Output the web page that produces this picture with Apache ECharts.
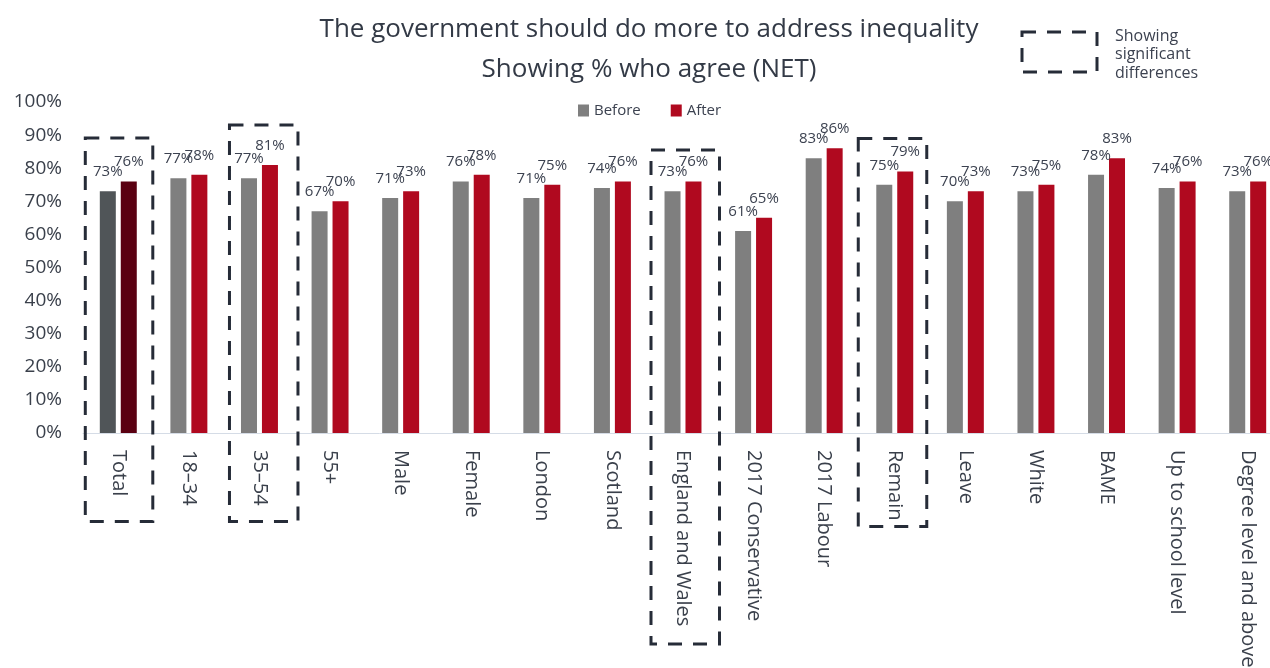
<!DOCTYPE html>
<html>
<head>
<meta charset="utf-8">
<title>The government should do more to address inequality</title>
<script src="https://cdn.jsdelivr.net/npm/echarts@6/dist/echarts.min.js"></script>
<style>
  html, body { margin: 0; padding: 0; background: #ffffff; }
  #chart { width: 1270px; height: 668px; }
</style>
</head>
<body>
<div id="chart"></div>
<script>
// ---- data ----
const categories = [
  'Total', '18–34', '35–54', '55+', 'Male', 'Female', 'London', 'Scotland',
  'England and Wales', '2017 Conservative', '2017 Labour', 'Remain', 'Leave',
  'White', 'BAME', 'Up to school level', 'Degree level and above'
];
const beforeValues = [73, 77, 77, 67, 71, 76, 71, 74, 73, 61, 83, 75, 70, 73, 78, 74, 73];
const afterValues  = [76, 78, 81, 70, 73, 78, 75, 76, 76, 65, 86, 79, 73, 75, 83, 76, 76];
const yTicks = [0, 10, 20, 30, 40, 50, 60, 70, 80, 90, 100];
// groups where the change is significant
const significant = ['Total', '35–54', 'England and Wales', 'Remain'];

// ---- styling ----
const FONT = '"Open Sans", "DejaVu Sans", sans-serif';
const TEXT = '#3a404b';
const BEFORE = '#7f7f7f';
const AFTER = '#b0091f';
const TOTAL_BEFORE = '#505558';
const TOTAL_AFTER = '#5a0011';
const BOX = '#262c38';

// box extents around highlighted groups (pixel offsets from the group centre, and top/bottom)
const boxLayout = {
  'Total':             { dl: -33, dr: 34.5, top: 138,   bottom: 521.5 },
  '35–54':             { dl: -30, dr: 38.5, top: 125,   bottom: 521.5 },
  'England and Wales': { dl: -32, dr: 36.5, top: 150,   bottom: 644 },
  'Remain':            { dl: -36.5, dr: 32, top: 138.5, bottom: 526.5 }
};

function withTotalColor(values, color) {
  return values.map((v, i) =>
    categories[i] === 'Total' ? { value: v, itemStyle: { color: color } } : v);
}

const labelStyle = {
  show: true,
  position: 'top',
  distance: 12,
  formatter: '{c}%',
  fontFamily: FONT,
  fontSize: 15,
  color: '#3c4250'
};

const chart = echarts.init(document.getElementById('chart'), null, { renderer: 'canvas' });

chart.setOption({
  animation: false,
  backgroundColor: '#ffffff',
  title: {
    text: 'The government should do more to address inequality\nShowing % who agree (NET)',
    left: 644,
    textAlign: 'center',
    top: 5,
    textStyle: {
      fontFamily: FONT,
      fontSize: 26,
      fontWeight: 'normal',
      color: '#333a46',
      lineHeight: 40
    }
  },
  legend: {
    data: ['Before', 'After'],
    left: 573,
    top: 98,
    icon: 'rect',
    itemWidth: 11,
    itemHeight: 12,
    itemGap: 30,
    textStyle: { fontFamily: FONT, fontSize: 15, color: '#3c4250', fontWeight: 500 }
  },
  grid: {
    left: 83, top: 102, width: 1200, height: 331,
    containLabel: false,
    outerBoundsMode: 'none'
  },
  xAxis: {
    type: 'category',
    data: categories,
    axisLine: { show: true, lineStyle: { color: '#d5dce6', width: 1 } },
    axisTick: { show: false },
    axisLabel: {
      interval: 0,
      rotate: -90,
      margin: 17,
      fontFamily: FONT,
      fontSize: 20,
      color: TEXT
    }
  },
  yAxis: {
    type: 'value',
    min: yTicks[0],
    max: yTicks[yTicks.length - 1],
    interval: yTicks[1] - yTicks[0],
    axisLine: { show: false },
    axisTick: { show: false },
    splitLine: { show: false },
    axisLabel: {
      formatter: '{value}%',
      margin: 21,
      fontFamily: FONT,
      fontSize: 19,
      color: TEXT
    }
  },
  series: [
    {
      name: 'Before',
      type: 'bar',
      data: withTotalColor(beforeValues, TOTAL_BEFORE),
      itemStyle: { color: BEFORE },
      barWidth: 16,
      barGap: '31%',
      label: labelStyle
    },
    {
      name: 'After',
      type: 'bar',
      data: withTotalColor(afterValues, TOTAL_AFTER),
      itemStyle: { color: AFTER },
      barWidth: 16,
      label: labelStyle
    }
  ]
});

// dashed boxes around the significant groups plus the key in the corner
const dashed = { fill: 'none', stroke: BOX, lineWidth: 3, lineDash: [14, 11] };
const graphics = significant.map(name => {
  const cx = chart.convertToPixel({ xAxisIndex: 0 }, name);
  const b = boxLayout[name];
  return {
    type: 'rect',
    z: 50,
    shape: { x: cx + b.dl, y: b.top, width: b.dr - b.dl, height: b.bottom - b.top },
    style: dashed
  };
});
graphics.push({
  type: 'rect',
  z: 50,
  shape: { x: 1022, y: 32, width: 75, height: 40 },
  style: dashed
});
graphics.push({
  type: 'text',
  left: 1115,
  top: 27,
  style: {
    text: 'Showing\nsignificant\ndifferences',
    fontFamily: FONT,
    fontSize: 16,
    lineHeight: 18.5,
    fill: '#3c4250'
  }
});
chart.setOption({ graphic: graphics });
</script>
</body>
</html>
